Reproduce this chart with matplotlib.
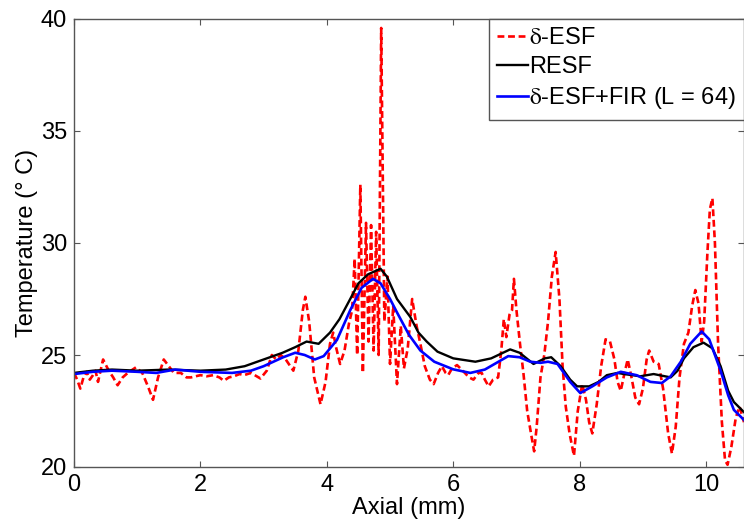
import matplotlib
matplotlib.use("Agg")
import matplotlib.pyplot as plt

plt.rcParams['font.family'] = ['Liberation Sans', 'DejaVu Sans']
plt.rcParams['mathtext.fontset'] = 'stix'

# delta-ESF (red dashed)
esf_x = [0.00, 0.05, 0.10, 0.15, 0.20, 0.25, 0.30, 0.34, 0.38, 0.46, 0.55, 0.62, 0.69, 0.77,
         0.85, 0.98, 1.08, 1.17, 1.25, 1.33, 1.42, 1.50, 1.58, 1.69, 1.78, 1.85, 2.00, 2.10,
         2.20, 2.30, 2.37, 2.45, 2.53, 2.62, 2.69, 2.80, 2.95, 3.05, 3.13, 3.20, 3.27, 3.35,
         3.47, 3.55, 3.62, 3.66, 3.72, 3.80, 3.90, 3.98, 4.05, 4.10, 4.15, 4.21, 4.28, 4.35,
         4.40, 4.44, 4.48, 4.53, 4.57, 4.62, 4.66, 4.70, 4.74, 4.78, 4.82, 4.86, 4.91, 4.96,
         5.00, 5.05, 5.11, 5.17, 5.22, 5.28, 5.35, 5.42, 5.48, 5.55, 5.63, 5.69, 5.76, 5.82,
         5.88, 5.92, 5.98, 6.06, 6.15, 6.25, 6.32, 6.40, 6.45, 6.50, 6.56, 6.63, 6.71, 6.76,
         6.80, 6.84, 6.89, 6.93, 6.96, 7.00, 7.06, 7.11, 7.17, 7.23, 7.28, 7.32, 7.38, 7.44,
         7.50, 7.56, 7.62, 7.68, 7.73, 7.78, 7.84, 7.91, 7.97, 8.04, 8.10, 8.15, 8.20, 8.27,
         8.34, 8.41, 8.48, 8.55, 8.60, 8.65, 8.71, 8.76, 8.82, 8.88, 8.94, 9.00, 9.06, 9.10,
         9.17, 9.25, 9.32, 9.40, 9.46, 9.52, 9.58, 9.65, 9.72, 9.78, 9.83, 9.88, 9.93, 9.97,
         10.02, 10.06, 10.10, 10.14, 10.19, 10.25, 10.30, 10.34, 10.40, 10.47, 10.53, 10.60]
esf_y = [24.2, 23.9, 23.5, 24.0, 24.25, 23.9, 24.1, 24.3, 23.8, 24.8, 24.3, 24.0, 23.65, 24.0,
         24.2, 24.45, 24.2, 23.6, 23.0, 24.0, 24.8, 24.5, 24.2, 24.2, 24.0, 24.0, 24.1, 24.05,
         24.1, 24.0, 23.85, 24.0, 24.05, 24.15, 24.1, 24.2, 23.95, 24.3, 25.0, 24.8, 25.0, 24.8,
         24.3, 25.2, 27.0, 27.6, 26.5, 24.0, 22.8, 23.8, 25.5, 26.0, 25.3, 24.6, 25.2, 26.4,
         27.0, 29.3, 25.0, 32.6, 24.2, 30.9, 25.6, 30.8, 25.2, 30.5, 25.0, 39.6, 26.5, 28.5,
         24.6, 27.2, 23.7, 26.3, 24.4, 25.3, 27.5, 26.3, 25.5, 24.5, 23.9, 23.7, 24.2, 24.5,
         24.2, 24.1, 24.4, 24.55, 24.3, 24.0, 23.9, 24.2, 24.2, 23.9, 23.6, 23.9, 24.0, 25.2,
         26.6, 25.8, 26.8, 27.0, 28.4, 27.0, 25.4, 24.2, 22.5, 21.5, 20.7, 21.8, 24.0, 25.0,
         26.5, 28.5, 29.6, 27.5, 24.5, 22.7, 21.5, 20.5, 22.5, 23.7, 23.0, 22.0, 21.5, 22.8,
         24.5, 25.7, 25.6, 24.8, 23.8, 23.4, 24.2, 24.8, 24.0, 23.1, 22.8, 23.5, 24.8, 25.2,
         24.7, 24.6, 23.5, 21.5, 20.6, 21.8, 24.0, 25.5, 26.0, 27.2, 27.9, 27.3, 25.6, 26.5,
         29.5, 31.5, 32.0, 30.0, 25.5, 22.0, 20.3, 20.1, 20.9, 22.2, 22.7, 22.0]

# RESF (black)
resf_x = [0.0, 0.3, 0.6, 1.0, 1.5, 2.0, 2.4, 2.7, 3.0, 3.3, 3.5, 3.68, 3.87, 4.05, 4.2, 4.37,
          4.5, 4.65, 4.85, 4.95, 5.11, 5.32, 5.45, 5.58, 5.75, 6.0, 6.35, 6.6, 6.9, 7.05, 7.27,
          7.45, 7.55, 7.7, 7.85, 7.96, 8.15, 8.3, 8.43, 8.6, 8.7, 8.96, 9.17, 9.44, 9.55, 9.65,
          9.8, 9.96, 10.1, 10.23, 10.35, 10.44, 10.6]
resf_y = [24.2, 24.3, 24.35, 24.3, 24.35, 24.3, 24.35, 24.5, 24.8, 25.1, 25.35, 25.6, 25.5,
          26.0, 26.6, 27.5, 28.2, 28.6, 28.85, 28.5, 27.5, 26.7, 26.0, 25.6, 25.15, 24.85, 24.7,
          24.85, 25.25, 25.1, 24.6, 24.85, 24.9, 24.5, 23.9, 23.6, 23.6, 23.8, 24.1, 24.2, 24.15,
          24.05, 24.15, 24.0, 24.3, 24.85, 25.35, 25.55, 25.3, 24.5, 23.4, 22.9, 22.45]

# delta-ESF + FIR (blue)
fir_x = [0.0, 0.3, 0.6, 1.0, 1.3, 1.6, 2.0, 2.5, 2.8, 3.0, 3.31, 3.5, 3.65, 3.81, 3.95, 4.16,
         4.37, 4.55, 4.73, 4.85, 5.0, 5.11, 5.3, 5.48, 5.7, 6.0, 6.27, 6.5, 6.87, 7.05, 7.22,
         7.38, 7.5, 7.65, 7.85, 8.01, 8.2, 8.43, 8.65, 8.9, 9.12, 9.3, 9.44, 9.6, 9.75, 9.93,
         10.05, 10.23, 10.35, 10.44, 10.6]
fir_y = [24.15, 24.25, 24.3, 24.25, 24.2, 24.35, 24.25, 24.2, 24.3, 24.5, 24.9, 25.1, 25.0,
         24.8, 24.95, 25.67, 27.0, 28.0, 28.4, 28.2, 27.5, 26.9, 25.9, 25.2, 24.7, 24.36, 24.2,
         24.35, 24.95, 24.9, 24.7, 24.65, 24.7, 24.6, 23.8, 23.3, 23.6, 24.0, 24.25, 24.1, 23.8,
         23.75, 24.05, 24.7, 25.5, 26.05, 25.7, 24.3, 23.2, 22.55, 22.1]

labels = [r'$\mathrm{\delta}$-ESF', 'RESF', r'$\mathrm{\delta}$-ESF+FIR (L = 64)']
xticks = [0, 2, 4, 6, 8, 10]
yticks = [20, 25, 30, 35, 40]

fig = plt.figure(figsize=(7.44, 5.29), dpi=100)
ax = fig.add_axes([74 / 744, 62 / 529, 1 - 74 / 744, 448 / 529])

ax.plot(esf_x, esf_y, color='#ff0000', lw=1.9, dashes=(2.6, 1.4), label=labels[0])
ax.plot(resf_x, resf_y, color='black', lw=1.7, label=labels[1])
ax.plot(fir_x, fir_y, color='#0000ff', lw=1.9, label=labels[2])

ax.set_xlim(0, 10.6)
ax.set_ylim(20, 40)
ax.set_xticks(xticks)
ax.set_yticks(yticks)
ax.tick_params(direction='in', top=True, right=True, labelsize=17, length=4,
               color='#555555', pad=5)
for s in ax.spines.values():
    s.set_color('#555555')
    s.set_linewidth(1.0)

ax.set_xlabel('Axial (mm)', fontsize=17, labelpad=1)
ax.set_ylabel('Temperature (° C)', fontsize=17, labelpad=2)

leg = ax.legend(loc='upper right', fontsize=17, borderaxespad=0, handlelength=1.3,
                handletextpad=0.05, fancybox=False, framealpha=1, edgecolor='#555555',
                borderpad=0.35, labelspacing=0.3)
leg.get_frame().set_linewidth(1.0)

fig.savefig('out.png', dpi=100)
